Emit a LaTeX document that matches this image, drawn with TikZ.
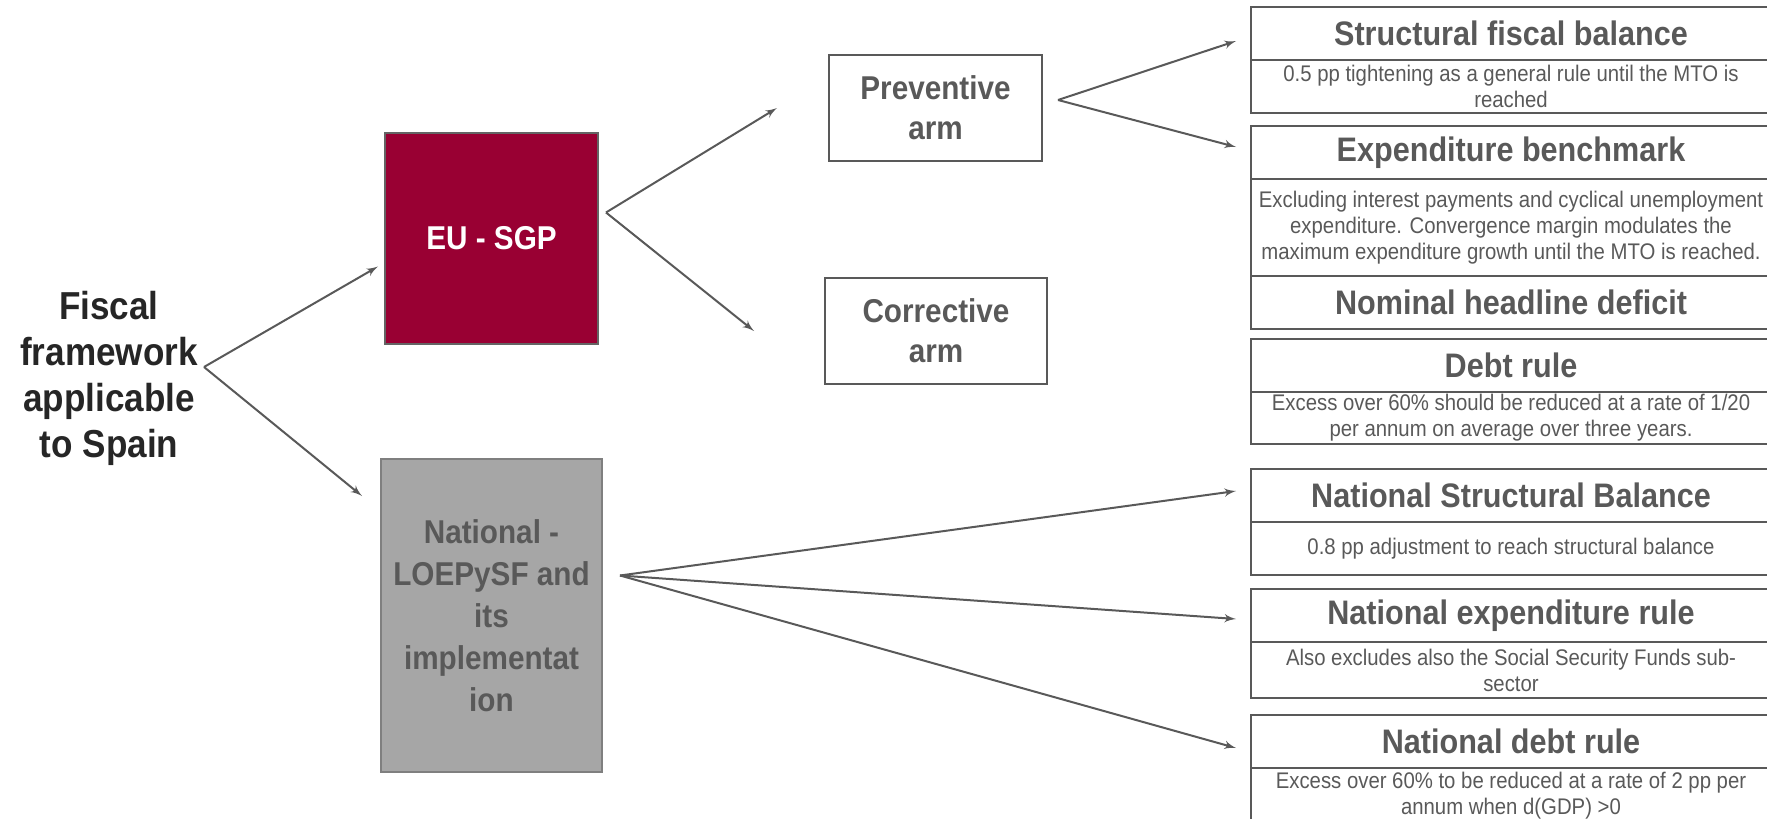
\documentclass[tikz,border=0pt]{standalone}
\usepackage{fontspec}
\setmainfont{Liberation Sans}[FakeStretch=0.9]
\usetikzlibrary{arrows,positioning}
\definecolor{darkgrey}{RGB}{89,89,89}
\definecolor{inkgrey}{RGB}{38,38,38}
\definecolor{edgegrey}{RGB}{100,100,100}
\definecolor{sgpred}{RGB}{153,0,51}
\definecolor{natgrey}{RGB}{166,166,166}
\definecolor{natline}{RGB}{127,127,127}
\tikzset{
    %Define standard arrow tip
    >=latex',
    %Define style for boxes
    fiscal/.style={
           align=center,
           text=inkgrey,
           font=\bfseries\fontsize{19.5}{23}\selectfont,
           },
    sgp/.style={
           rectangle,
           draw=edgegrey, line width=1pt,
           fill=sgpred,
           minimum width=106.5pt,
           minimum height=105.5pt,
           text=white,
           font=\bfseries\fontsize{16.5}{20}\selectfont,
           },
    national/.style={
           rectangle,
           draw=natline, line width=1pt,
           fill=natgrey,
           minimum width=110.5pt,
           minimum height=156.5pt,
           text=darkgrey,
           align=center,
           font=\bfseries\fontsize{16.5}{21}\selectfont,
           },
    armbox/.style={
           rectangle,
           draw=darkgrey, line width=1pt,
           minimum width=106.5pt,
           minimum height=53pt,
           text=darkgrey,
           align=center,
           font=\bfseries\fontsize{16.5}{20}\selectfont,
           },
    rulehead/.style={
           rectangle,
           draw=darkgrey, line width=1.1pt,
           outer sep=0pt, inner sep=2pt,
           minimum width=260pt,
           minimum height=26.5pt,
           text=darkgrey,
           font=\bfseries\fontsize{17}{20}\selectfont,
           },
    rulebody/.style={
           rectangle,
           draw=darkgrey, line width=1.1pt,
           outer sep=0pt, inner sep=1pt,
           minimum width=260pt,
           minimum height=26.5pt,
           text=darkgrey,
           align=center,
           font=\fontsize{11.3}{13}\selectfont,
           },
    % Define arrow style
    pil/.style={
           ->,
           draw=darkgrey,
           line width=1pt,},
}
\begin{document}
\begin{tikzpicture}[x=0.5pt,y=-0.5pt,node distance=0pt]
\useasboundingbox (0,0) rectangle (1767,819);
 %nodes
\node[fiscal] (fiscal) at (109,378) {Fiscal\\framework\\applicable\\to Spain};
\node[sgp] (eu) at (491.5,238.5) {EU - SGP};
\node[national] (nat) at (491.5,615.5) {National -\\LOEPySF and\\its\\implementat\\ion};
\node[armbox] (prev) at (935.5,108) {Preventive\\arm};
\node[armbox, minimum width=111pt] (corr) at (936,331) {Corrective\\arm};
 %rules
\node[rulehead] (sfbT) at (1511,33.5) {Structural fiscal balance};
\node[rulebody, below=of sfbT] (sfbS) {0.5 pp tightening as a general rule until the MTO is\\reached};
\node[rulehead, below=6.5pt of sfbS] (ebT) {Expenditure benchmark};
\node[rulebody, below=of ebT, minimum height=48.5pt] (ebS) {Excluding interest payments and cyclical unemployment\\expenditure. Convergence margin modulates the\\maximum expenditure growth until the MTO is reached.};
\node[rulehead, below=of ebS] (nhd) {Nominal headline deficit};
\node[rulehead, below=5pt of nhd] (drT) {Debt rule};
\node[rulebody, below=of drT, minimum height=26pt] (drS) {Excess over 60\% should be reduced at a rate of 1/20\\per annum on average over three years.};
\node[rulehead, below=12.5pt of drS] (nsbT) {National Structural Balance};
\node[rulebody, below=of nsbT] (nsbS) {0.8 pp adjustment to reach structural balance};
\node[rulehead, below=7pt of nsbS] (nerT) {National expenditure rule};
\node[rulebody, below=of nerT, minimum height=28pt] (nerS) {Also excludes also the Social Security Funds sub-\\sector};
\node[rulehead, below=8.5pt of nerS] (ndrT) {National debt rule};
\node[rulebody, below=of ndrT, minimum height=27.5pt] (ndrS) {Excess over 60\% to be reduced at a rate of 2 pp per\\annum when d(GDP) >0};
 %forks
\coordinate (ffork) at (204,367);
\coordinate (efork) at ([xshift=3.5pt,yshift=13pt]eu.east);
\coordinate (pfork) at ([xshift=7.5pt,yshift=4pt]prev.east);
\coordinate (nfork) at ([xshift=8.5pt,yshift=20pt]nat.east);
\path[every edge/.style={pil}]
    (ffork) edge ([xshift=-3pt,yshift=-14pt]eu.west)
            edge ([xshift=-9pt,yshift=-19pt]nat.north west)
    (efork) edge ([xshift=-25.5pt]prev.west)
            edge ([xshift=-35pt]corr.west)
    (pfork) edge ([xshift=-7.5pt,yshift=-3.75pt]sfbT.west)
            edge ([xshift=-7.5pt,yshift=2.75pt]ebT.west)
    (nfork) edge ([xshift=-7.5pt,yshift=2.25pt]nsbT.west)
            edge ([xshift=-7.5pt,yshift=-1.75pt]nerT.west)
            edge ([xshift=-7.5pt,yshift=-3.25pt]ndrT.west);
\end{tikzpicture}
\end{document}
